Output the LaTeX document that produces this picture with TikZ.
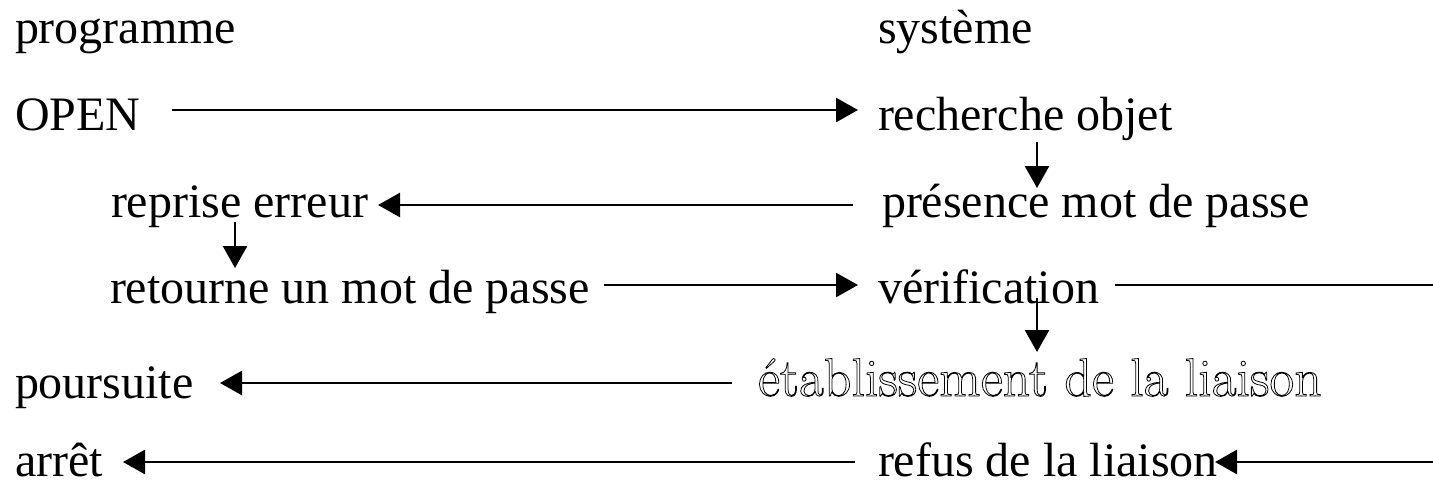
\documentclass[tikz,border=0pt]{standalone}
\usepackage{fontspec}
\setmainfont{Liberation Serif}
\newfontfamily\outfont{Latin Modern Roman}
\usetikzlibrary{arrows.meta}
\newcommand{\outlinetext}[1]{\special{pdf:literal direct 1 Tr 0.8 w}#1\special{pdf:literal direct 0 Tr}}
\tikzset{
  lbl/.style={anchor=base west, inner sep=0pt, outer sep=0pt, text depth=0pt, font=\fontsize{48}{50}\selectfont},
  olbl/.style={anchor=base west, inner sep=0pt, outer sep=0pt, text depth=0pt, font=\outfont\fontsize{54}{56}\selectfont},
  arr/.style={line width=2.6pt, -{Triangle[length=22pt,width=24pt]}},
  ln/.style={line width=2.6pt}
}
\begin{document}
\begin{tikzpicture}[x=1pt,y=-1pt]
\useasboundingbox (0,0) rectangle (1433,480);
\node[lbl] (prog) at (15,43) {programme};
\node[lbl] (sys) at (878,43) {système};
\node[lbl] (open) at (15,130) {OPEN};
\node[lbl] (rech) at (878,130) {recherche objet};
\node[lbl] (repr) at (111,217) {reprise erreur};
\node[lbl] (pres) at (882,217) {présence mot de passe};
\node[lbl] (ret) at (110,303) {retourne un mot de passe};
\node[lbl] (verif) at (878,303) {vérification};
\node[lbl] (pours) at (15,398) {poursuite};
\node[olbl] (etab) at (758,396) {\outlinetext{établissement de la liaison}};
\node[lbl] (arret) at (15,476) {arrêt};
\node[lbl] (refus) at (878,476) {refus de la liaison};
\coordinate (vout) at (1433,285);
\coordinate (rin) at (1433,462);
% connectors
\draw[arr] ([xshift=157pt,yshift=20pt]open.base west) -- ([xshift=-20pt,yshift=20pt]rech.base west);
\draw[arr] ([xshift=159pt,yshift=-12pt]rech.base west) -- ([xshift=155pt,yshift=29pt]pres.base west);
\draw[arr] ([xshift=-29pt,yshift=12pt]pres.base west) -- ([xshift=267pt,yshift=12pt]repr.base west);
\draw[arr] ([xshift=124pt,yshift=-5pt]repr.base west) -- ([xshift=125pt,yshift=35pt]ret.base west);
\draw[arr] ([xshift=494pt,yshift=18pt]ret.base west) -- ([xshift=-20pt,yshift=18pt]verif.base west);
\draw[ln] ([xshift=237pt,yshift=18pt]verif.base west) -- (vout);
\draw[arr] ([xshift=159pt,yshift=5pt]verif.base west) -- ([xshift=279pt,yshift=44pt]etab.base west);
\draw[arr] ([xshift=-26pt,yshift=13pt]etab.base west) -- ([xshift=205pt,yshift=15pt]pours.base west);
\draw[arr] ([xshift=-23pt,yshift=14pt]refus.base west) -- ([xshift=108pt,yshift=14pt]arret.base west);
\draw[arr] (rin) -- ([xshift=337pt,yshift=14pt]refus.base west);
\end{tikzpicture}
\end{document}
